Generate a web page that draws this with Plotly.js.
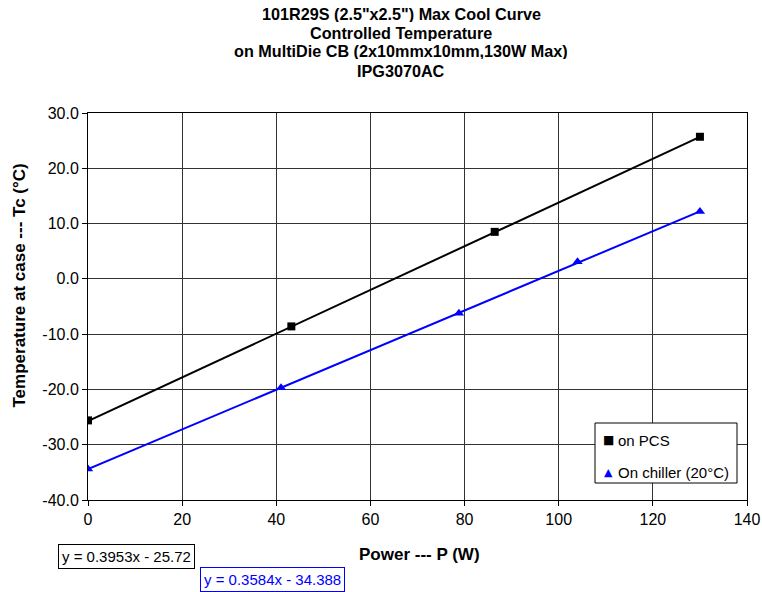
<!DOCTYPE html>
<html><head><meta charset="utf-8">
<script src="https://cdn.plot.ly/plotly-3.0.1.min.js"></script>
<style>body{margin:0;background:#fff}#c{width:762px;height:592px}</style>
</head><body><div id="c"></div>
<script>
// Data
const pcsPower = [0, 43.2, 86.4, 130];
const pcsTemp = [-25.6, -8.6, 8.5, 25.7];
const chillerPower = [0, 41.0, 78.8, 104.0, 130];
const chillerTemp = [-34.4, -19.7, -6.2, 3.1, 12.2];
// Trendline coefficients as printed on the chart
const pcsFit = {slope: 0.3953, intercept: -25.72};
const chillerFit = {slope: 0.3584, intercept: -34.388};
const seriesNames = ["on PCS", "On chiller (20°C)"];
const titleLines = ['101R29S (2.5"x2.5") Max Cool Curve', 'Controlled Temperature',
                    'on MultiDie CB (2x10mmx10mm,130W Max)', 'IPG3070AC'];
const xTitle = 'Power --- P (W)';
const yTitle = 'Temperature at case --- Tc (°C)';
const xTicks = [0, 20, 40, 60, 80, 100, 120, 140];
const yTicks = [-40, -30, -20, -10, 0, 10, 20, 30];

function fitLine(xs, fit) {
  const x0 = Math.min(...xs), x1 = Math.max(...xs);
  return {x: [x0, x1], y: [fit.slope * x0 + fit.intercept, fit.slope * x1 + fit.intercept]};
}
const pcsTrend = fitLine(pcsPower, pcsFit);
const chTrend = fitLine(chillerPower, chillerFit);

const F = 'Arial, "Liberation Sans", sans-serif';
const traces = [
  {x: pcsTrend.x, y: pcsTrend.y, mode: 'lines', line: {color: '#000', width: 2}, showlegend: false, hoverinfo: 'skip'},
  {x: chTrend.x, y: chTrend.y, mode: 'lines', line: {color: '#0000ff', width: 2}, showlegend: false, hoverinfo: 'skip'},
  {x: pcsPower, y: pcsTemp, mode: 'markers', name: seriesNames[0], showlegend: false,
   marker: {symbol: 'square', size: 8, color: '#000'}},
  {x: chillerPower, y: chillerTemp, mode: 'markers', name: seriesNames[1], showlegend: false,
   marker: {symbol: 'triangle-up', size: 9, color: '#0000ff'}}
];

const fmt = f => 'y = ' + f.slope + 'x - ' + Math.abs(f.intercept);

// pixel -> paper helpers (plot area: x 88..747, y 113..500)
const px = v => (v - 88) / 659;
const py = v => (500 - v) / 387;

const annotations = [];
const titleY = [13.5, 32.5, 51.5, 70.5];
titleLines.forEach((t, i) => annotations.push({
  xref: 'paper', yref: 'paper', x: px(401), y: py(titleY[i]), xanchor: 'center', yanchor: 'middle',
  text: '<b>' + t + '</b>', showarrow: false, font: {family: F, size: 16.2, color: '#000'},
  height: 16, borderpad: 0
}));
// axis titles
annotations.push(
  {xref: 'paper', yref: 'paper', x: px(419), y: py(554), xanchor: 'center', yanchor: 'middle',
   text: '<b>' + xTitle + '</b>', showarrow: false, font: {family: F, size: 17, color: '#000'}},
  {xref: 'paper', yref: 'paper', x: px(18.5), y: py(286), xanchor: 'center', yanchor: 'middle',
   textangle: -90, text: '<b>' + yTitle + '</b>', showarrow: false, font: {family: F, size: 17, color: '#000'}}
);
// equation boxes
annotations.push(
  {xref: 'paper', yref: 'paper', x: px(58), y: py(544), xanchor: 'left', yanchor: 'top',
   text: fmt(pcsFit), showarrow: false, font: {family: F, size: 15, color: '#000'},
   bordercolor: '#000', borderwidth: 1, borderpad: 3, bgcolor: '#fff'},
  {xref: 'paper', yref: 'paper', x: px(200), y: py(567), xanchor: 'left', yanchor: 'top',
   text: fmt(chillerFit), showarrow: false, font: {family: F, size: 15, color: '#0000ff'},
   bordercolor: '#0000ff', borderwidth: 1, borderpad: 3, bgcolor: '#fff'}
);
// legend entries
const legRows = [440, 472];
const legSym = [{s: '■', c: '#000', size: 12}, {s: '▲', c: '#0000ff', size: 11}];
seriesNames.forEach((n, i) => {
  annotations.push({xref: 'paper', yref: 'paper', x: px(608), y: py(legRows[i]), xanchor: 'center', yanchor: 'middle',
    text: legSym[i].s, showarrow: false, font: {family: '"DejaVu Sans", sans-serif', size: legSym[i].size, color: legSym[i].c}});
  annotations.push({xref: 'paper', yref: 'paper', x: px(616), y: py(legRows[i]), xanchor: 'left', yanchor: 'middle',
    text: n, showarrow: false, font: {family: F, size: 15, color: '#000'}});
});

const layout = {
  width: 762, height: 592,
  margin: {l: 88, r: 15, t: 113, b: 92},
  paper_bgcolor: '#fff', plot_bgcolor: '#fff',
  font: {family: F, size: 16, color: '#000'},
  showlegend: false,
  xaxis: {
    range: [0, 140], tickvals: xTicks, ticktext: xTicks.map(String),
    showgrid: true, gridcolor: '#333', gridwidth: 1,
    showline: true, linecolor: '#000', linewidth: 1, mirror: true,
    ticks: 'outside', ticklen: 5, tickcolor: '#000', zeroline: false,
    tickfont: {family: F, size: 16}
  },
  yaxis: {
    range: [-40, 30], tickvals: yTicks, ticktext: yTicks.map(v => v.toFixed(1)),
    showgrid: true, gridcolor: '#333', gridwidth: 1,
    showline: true, linecolor: '#000', linewidth: 1, mirror: true,
    ticks: 'outside', ticklen: 5, tickcolor: '#000', zeroline: false,
    tickfont: {family: F, size: 16}
  },
  shapes: [
    {type: 'rect', xref: 'paper', yref: 'paper', x0: px(595), x1: px(737), y0: py(483), y1: py(423),
     line: {color: '#000', width: 1}, fillcolor: '#fff', layer: 'above'}
  ],
  annotations: annotations
};
Plotly.newPlot('c', traces, layout, {displayModeBar: false, staticPlot: true});
</script></body></html>
